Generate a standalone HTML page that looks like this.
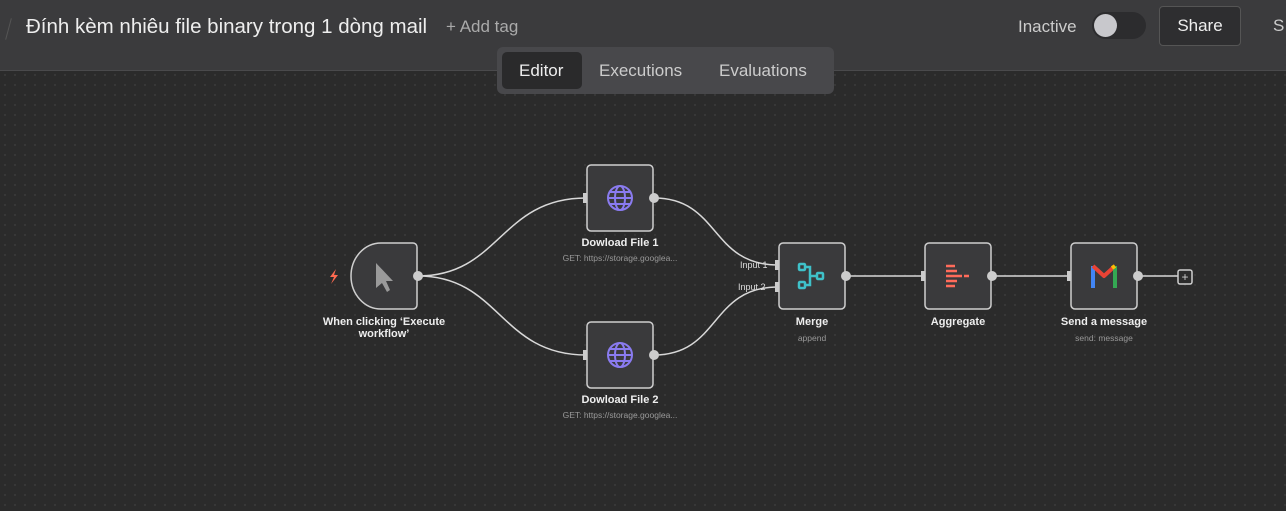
<!DOCTYPE html>
<html><head><meta charset="utf-8"><style>
body{margin:0;width:1286px;height:511px;overflow:hidden;background:#2b2b2b;font-family:"Liberation Sans",sans-serif;position:relative}
.hdr{position:absolute;left:0;top:0;width:1286px;height:70px;background:#3b3b3d;border-bottom:1px solid #4a4a4c}
.t{position:absolute;color:#eee;font-size:20.5px;top:15px;left:26px;white-space:nowrap}
.tab{position:absolute;left:497px;top:47px;width:337px;height:47px;background:#48484b;border-radius:6px}
.tab span{position:absolute;top:14px;font-size:17px;color:#ccc}
.lbl{position:absolute;color:#eee;font-size:11px;font-weight:bold;text-align:center;width:200px}
.sub{position:absolute;color:#999;font-size:8.5px;text-align:center;width:200px}
</style></head><body>
<svg width="1286" height="511" style="position:absolute;left:0;top:0">
<defs><pattern id="d" width="10" height="10" patternUnits="userSpaceOnUse"><circle cx="5" cy="5" r="0.7" fill="#4a4a4a"/></pattern></defs>
<rect x="0" y="70" width="1286" height="441" fill="url(#d)"/>
<g fill="none" stroke="#d8d8d8" stroke-width="1.5">
<path d="M418 276 C500 276 500 198 586 198"/>
<path d="M418 276 C500 276 500 355 586 355"/>
<path d="M654 198 C720 198 710 265 778 265"/>
<path d="M654 355 C720 355 710 287 778 287"/>
<path d="M846 276 H924"/><path d="M992 276 H1070"/><path d="M1138 276 H1178"/>
</g>
<g fill="#3a3a3c" stroke="#cfcfcf" stroke-width="1.5">
<path d="M381 243 H413 a4 4 0 0 1 4 4 V305 a4 4 0 0 1-4 4 H381 a30 33 0 0 1 0-66z"/>
<rect x="587" y="165" width="66" height="66" rx="4"/>
<rect x="587" y="322" width="66" height="66" rx="4"/>
<rect x="779" y="243" width="66" height="66" rx="4"/>
<rect x="925" y="243" width="66" height="66" rx="4"/>
<rect x="1071" y="243" width="66" height="66" rx="4"/>
<rect x="1178" y="270" width="14" height="14" rx="2" fill="none"/>
</g>
<text x="1185" y="281" fill="#ccc" font-size="12" text-anchor="middle">+</text>
<g fill="#ccc"><circle cx="418" cy="276" r="5"/><circle cx="654" cy="198" r="5"/><circle cx="654" cy="355" r="5"/><circle cx="846" cy="276" r="5"/><circle cx="992" cy="276" r="5"/><circle cx="1138" cy="276" r="5"/>
<rect x="583" y="193" width="4" height="10"/><rect x="583" y="350" width="4" height="10"/><rect x="775" y="260" width="4" height="10"/><rect x="775" y="282" width="4" height="10"/><rect x="921" y="271" width="4" height="10"/><rect x="1067" y="271" width="4" height="10"/></g>
<path d="M376 263 L376 288 L382 283 L387 292 L390 290 L386 281 L393 281Z" fill="#9a9a9a"/>
<path d="M336 269 L330 277 L334 277 L331 284 L338 275 L334 275Z" fill="#ff6a50"/>
<g fill="none" stroke="#8a7bf0" stroke-width="2"><circle cx="620" cy="198" r="12"/><ellipse cx="620" cy="198" rx="5" ry="12"/><path d="M608 198H632M610 192H630M610 204H630"/>
<circle cx="620" cy="355" r="12"/><ellipse cx="620" cy="355" rx="5" ry="12"/><path d="M608 355H632M610 349H630M610 361H630"/></g>
<g fill="none" stroke="#3fc1c9" stroke-width="2.5"><rect x="799" y="264" width="6" height="6" rx="1"/><rect x="799" y="282" width="6" height="6" rx="1"/><rect x="817" y="273" width="6" height="6" rx="1"/><path d="M805 267 H810 V285 H805 M810 276 H817"/></g>
<g fill="none" stroke="#ff6b5a" stroke-width="2.5"><path d="M946 266 H955 M946 271 H957 M946 276 H958 M946 281 H957 M946 286 H955 M957 276 H962 M964 276 H969"/></g>
<g fill="none" stroke-width="4" stroke-linejoin="round"><path d="M1093 288 V266" stroke="#4285f4"/><path d="M1093 266 L1104 276 L1115 266" stroke="#ea4335"/><path d="M1115 266 V288" stroke="#34a853"/><path d="M1115 266 L1112 268" stroke="#fbbc04"/></g>
<text x="740" y="268" fill="#ddd" font-size="9">Input 1</text>
<text x="738" y="290" fill="#ddd" font-size="9">Input 2</text>
</svg>
<div class="hdr"></div>
<div style="position:absolute;left:8px;top:18px;width:1px;height:22px;background:#555;transform:rotate(15deg)"></div>
<div class="t">Đính kèm nhiêu file binary trong 1 dòng mail</div>
<div style="position:absolute;left:446px;top:17px;color:#aaa;font-size:17px">+ Add tag</div>
<div style="position:absolute;left:1018px;top:17px;color:#ccc;font-size:17px">Inactive</div>
<div style="position:absolute;left:1092px;top:12px;width:54px;height:27px;border-radius:14px;background:#2c2c2e"><div style="position:absolute;left:2px;top:2px;width:23px;height:23px;border-radius:50%;background:#c8c8cc"></div></div>
<div style="position:absolute;left:1159px;top:6px;width:80px;height:38px;border-radius:4px;background:#2e2e30;border:1px solid #555;color:#eee;font-size:17px;text-align:center;line-height:38px">Share</div>
<div style="position:absolute;left:1273px;top:16px;color:#ccc;font-size:17px">S</div>
<div class="tab"><div style="position:absolute;left:5px;top:5px;width:80px;height:37px;background:#2a2a2b;border-radius:5px"></div><span style="left:22px;color:#eee">Editor</span><span style="left:102px">Executions</span><span style="left:222px">Evaluations</span></div>
<div class="lbl" style="left:284px;top:316px">When clicking ‘Execute<br>workflow’</div>
<div class="lbl" style="left:520px;top:237px">Dowload File 1</div><div class="sub" style="left:520px;top:253px">GET: https://storage.googlea...</div>
<div class="lbl" style="left:520px;top:394px">Dowload File 2</div><div class="sub" style="left:520px;top:410px">GET: https://storage.googlea...</div>
<div class="lbl" style="left:712px;top:316px">Merge</div><div class="sub" style="left:712px;top:333px">append</div>
<div class="lbl" style="left:858px;top:316px">Aggregate</div>
<div class="lbl" style="left:1004px;top:316px">Send a message</div><div class="sub" style="left:1004px;top:333px">send: message</div>
</body></html>
